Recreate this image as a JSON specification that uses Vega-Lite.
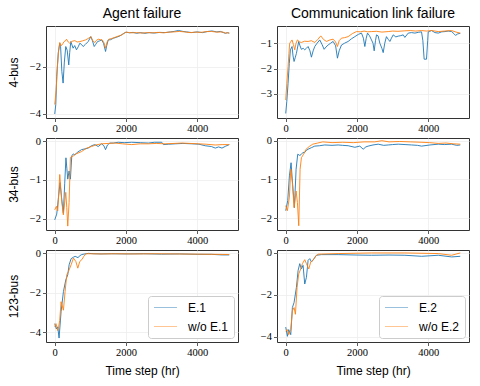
{
  "$schema": "https://vega.github.io/schema/vega-lite/v6.json",
  "padding": {"left": 6, "top": 6, "right": 5, "bottom": 5},
  "background": "white",
  "bounds": "flush",
  "columns": 2,
  "spacing": {"row": 20, "column": 39},
  "config": {
    "view": {"stroke": "#333333", "strokeWidth": 1},
    "axis": {
      "domain": false,
      "grid": true,
      "gridColor": "#eeeeee",
      "gridWidth": 0.8,
      "tickColor": "#333333",
      "tickSize": 3.5,
      "tickWidth": 0.8,
      "labelFont": "Liberation Serif",
      "labelFontSize": 10.5,
      "labelColor": "#000000",
      "labelPadding": 2,
      "titleFont": "Liberation Sans",
      "titleFontSize": 12,
      "titleFontWeight": "normal",
      "titleColor": "#000000"
    },
    "axisY": {"titlePadding": 9},
    "axisX": {"titlePadding": 7},
    "legend": {
      "labelFont": "Liberation Sans",
      "labelFontSize": 12,
      "labelColor": "#000000"
    },
    "line": {"strokeWidth": 0.9, "clip": true}
  },
  "resolve": {"scale": {"color": "independent", "x": "independent", "y": "independent"}},
  "datasets": {
    "a1": [
      {"t":0,"r":-4.0,"s":"E.1"},{"t":30,"r":-3.6,"s":"E.1"},{"t":56,"r":-2.4,"s":"E.1"},{"t":100,"r":-1.4,"s":"E.1"},{"t":141,"r":-1.0,"s":"E.1"},{"t":165,"r":-1.15,"s":"E.1"},{"t":200,"r":-2.2,"s":"E.1"},{"t":235,"r":-2.69,"s":"E.1"},{"t":270,"r":-1.8,"s":"E.1"},{"t":310,"r":-1.14,"s":"E.1"},{"t":350,"r":-1.3,"s":"E.1"},{"t":394,"r":-1.92,"s":"E.1"},{"t":420,"r":-1.4,"s":"E.1"},{"t":451,"r":-0.93,"s":"E.1"},{"t":516,"r":-1.21,"s":"E.1"},{"t":560,"r":-1.1,"s":"E.1"},{"t":610,"r":-1.28,"s":"E.1"},{"t":660,"r":-1.15,"s":"E.1"},{"t":704,"r":-1.0,"s":"E.1"},{"t":750,"r":-1.05,"s":"E.1"},{"t":798,"r":-1.14,"s":"E.1"},{"t":860,"r":-1.05,"s":"E.1"},{"t":939,"r":-0.93,"s":"E.1"},{"t":1014,"r":-0.72,"s":"E.1"},{"t":1060,"r":-0.9,"s":"E.1"},{"t":1108,"r":-1.14,"s":"E.1"},{"t":1150,"r":-1.05,"s":"E.1"},{"t":1202,"r":-0.93,"s":"E.1"},{"t":1260,"r":-0.9,"s":"E.1"},{"t":1315,"r":-0.86,"s":"E.1"},{"t":1370,"r":-1.0,"s":"E.1"},{"t":1427,"r":-1.35,"s":"E.1"},{"t":1460,"r":-1.1,"s":"E.1"},{"t":1502,"r":-0.86,"s":"E.1"},{"t":1570,"r":-0.85,"s":"E.1"},{"t":1643,"r":-0.79,"s":"E.1"},{"t":1730,"r":-0.75,"s":"E.1"},{"t":1831,"r":-0.69,"s":"E.1"},{"t":1920,"r":-0.6,"s":"E.1"},{"t":2000,"r":-0.53,"s":"E.1"},{"t":2100,"r":-0.56,"s":"E.1"},{"t":2200,"r":-0.54,"s":"E.1"},{"t":2300,"r":-0.58,"s":"E.1"},{"t":2400,"r":-0.55,"s":"E.1"},{"t":2535,"r":-0.58,"s":"E.1"},{"t":2650,"r":-0.55,"s":"E.1"},{"t":2800,"r":-0.57,"s":"E.1"},{"t":2950,"r":-0.54,"s":"E.1"},{"t":3099,"r":-0.55,"s":"E.1"},{"t":3250,"r":-0.52,"s":"E.1"},{"t":3350,"r":-0.5,"s":"E.1"},{"t":3474,"r":-0.46,"s":"E.1"},{"t":3600,"r":-0.5,"s":"E.1"},{"t":3700,"r":-0.52,"s":"E.1"},{"t":3850,"r":-0.55,"s":"E.1"},{"t":4000,"r":-0.52,"s":"E.1"},{"t":4150,"r":-0.55,"s":"E.1"},{"t":4300,"r":-0.5,"s":"E.1"},{"t":4413,"r":-0.48,"s":"E.1"},{"t":4550,"r":-0.52,"s":"E.1"},{"t":4650,"r":-0.5,"s":"E.1"},{"t":4789,"r":-0.58,"s":"E.1"},{"t":4850,"r":-0.55,"s":"E.1"},{"t":4900,"r":-0.58,"s":"E.1"},
      {"t":0,"r":-3.6,"s":"w/o E.1"},{"t":40,"r":-3.0,"s":"w/o E.1"},{"t":75,"r":-2.0,"s":"w/o E.1"},{"t":110,"r":-1.3,"s":"w/o E.1"},{"t":141,"r":-0.97,"s":"w/o E.1"},{"t":175,"r":-1.1,"s":"w/o E.1"},{"t":207,"r":-1.07,"s":"w/o E.1"},{"t":235,"r":-1.0,"s":"w/o E.1"},{"t":263,"r":-0.93,"s":"w/o E.1"},{"t":300,"r":-0.9,"s":"w/o E.1"},{"t":329,"r":-0.83,"s":"w/o E.1"},{"t":380,"r":-0.95,"s":"w/o E.1"},{"t":423,"r":-1.0,"s":"w/o E.1"},{"t":480,"r":-0.92,"s":"w/o E.1"},{"t":563,"r":-0.89,"s":"w/o E.1"},{"t":630,"r":-0.95,"s":"w/o E.1"},{"t":704,"r":-0.93,"s":"w/o E.1"},{"t":780,"r":-0.9,"s":"w/o E.1"},{"t":864,"r":-0.86,"s":"w/o E.1"},{"t":940,"r":-0.8,"s":"w/o E.1"},{"t":1014,"r":-0.72,"s":"w/o E.1"},{"t":1070,"r":-0.9,"s":"w/o E.1"},{"t":1127,"r":-0.97,"s":"w/o E.1"},{"t":1170,"r":-0.88,"s":"w/o E.1"},{"t":1221,"r":-0.83,"s":"w/o E.1"},{"t":1280,"r":-0.85,"s":"w/o E.1"},{"t":1333,"r":-0.86,"s":"w/o E.1"},{"t":1390,"r":-1.0,"s":"w/o E.1"},{"t":1427,"r":-1.21,"s":"w/o E.1"},{"t":1470,"r":-0.95,"s":"w/o E.1"},{"t":1521,"r":-0.83,"s":"w/o E.1"},{"t":1600,"r":-0.8,"s":"w/o E.1"},{"t":1690,"r":-0.75,"s":"w/o E.1"},{"t":1780,"r":-0.7,"s":"w/o E.1"},{"t":1878,"r":-0.65,"s":"w/o E.1"},{"t":1950,"r":-0.58,"s":"w/o E.1"},{"t":2000,"r":-0.53,"s":"w/o E.1"},{"t":2100,"r":-0.55,"s":"w/o E.1"},{"t":2200,"r":-0.56,"s":"w/o E.1"},{"t":2300,"r":-0.55,"s":"w/o E.1"},{"t":2450,"r":-0.57,"s":"w/o E.1"},{"t":2600,"r":-0.55,"s":"w/o E.1"},{"t":2750,"r":-0.56,"s":"w/o E.1"},{"t":2900,"r":-0.54,"s":"w/o E.1"},{"t":3050,"r":-0.56,"s":"w/o E.1"},{"t":3200,"r":-0.53,"s":"w/o E.1"},{"t":3350,"r":-0.52,"s":"w/o E.1"},{"t":3500,"r":-0.5,"s":"w/o E.1"},{"t":3650,"r":-0.52,"s":"w/o E.1"},{"t":3800,"r":-0.55,"s":"w/o E.1"},{"t":3950,"r":-0.53,"s":"w/o E.1"},{"t":4100,"r":-0.54,"s":"w/o E.1"},{"t":4250,"r":-0.51,"s":"w/o E.1"},{"t":4400,"r":-0.5,"s":"w/o E.1"},{"t":4550,"r":-0.53,"s":"w/o E.1"},{"t":4700,"r":-0.52,"s":"w/o E.1"},{"t":4800,"r":-0.57,"s":"w/o E.1"},{"t":4900,"r":-0.56,"s":"w/o E.1"}
    ],
    "c1": [
      {"t":0,"r":-3.77,"s":"E.2"},{"t":30,"r":-3.3,"s":"E.2"},{"t":66,"r":-2.58,"s":"E.2"},{"t":100,"r":-1.8,"s":"E.2"},{"t":131,"r":-1.26,"s":"E.2"},{"t":178,"r":-1.13,"s":"E.2"},{"t":205,"r":-1.5,"s":"E.2"},{"t":234,"r":-1.72,"s":"E.2"},{"t":270,"r":-1.55,"s":"E.2"},{"t":300,"r":-1.4,"s":"E.2"},{"t":365,"r":-0.93,"s":"E.2"},{"t":400,"r":-1.1,"s":"E.2"},{"t":440,"r":-1.24,"s":"E.2"},{"t":490,"r":-1.2,"s":"E.2"},{"t":534,"r":-1.26,"s":"E.2"},{"t":580,"r":-1.2,"s":"E.2"},{"t":628,"r":-1.13,"s":"E.2"},{"t":680,"r":-1.3,"s":"E.2"},{"t":721,"r":-1.55,"s":"E.2"},{"t":770,"r":-1.3,"s":"E.2"},{"t":815,"r":-1.13,"s":"E.2"},{"t":880,"r":-1.0,"s":"E.2"},{"t":956,"r":-0.87,"s":"E.2"},{"t":1020,"r":-1.05,"s":"E.2"},{"t":1078,"r":-1.24,"s":"E.2"},{"t":1130,"r":-1.15,"s":"E.2"},{"t":1190,"r":-1.07,"s":"E.2"},{"t":1260,"r":-1.0,"s":"E.2"},{"t":1331,"r":-0.93,"s":"E.2"},{"t":1400,"r":-1.1,"s":"E.2"},{"t":1452,"r":-1.59,"s":"E.2"},{"t":1500,"r":-1.3,"s":"E.2"},{"t":1565,"r":-1.07,"s":"E.2"},{"t":1650,"r":-1.0,"s":"E.2"},{"t":1752,"r":-0.93,"s":"E.2"},{"t":1850,"r":-0.82,"s":"E.2"},{"t":1940,"r":-0.74,"s":"E.2"},{"t":2040,"r":-0.65,"s":"E.2"},{"t":2127,"r":-0.6,"s":"E.2"},{"t":2180,"r":-0.8,"s":"E.2"},{"t":2221,"r":-1.13,"s":"E.2"},{"t":2260,"r":-0.8,"s":"E.2"},{"t":2296,"r":-0.6,"s":"E.2"},{"t":2350,"r":-0.7,"s":"E.2"},{"t":2408,"r":-0.87,"s":"E.2"},{"t":2450,"r":-1.0,"s":"E.2"},{"t":2483,"r":-1.3,"s":"E.2"},{"t":2520,"r":-0.9,"s":"E.2"},{"t":2549,"r":-0.67,"s":"E.2"},{"t":2594,"r":-0.71,"s":"E.2"},{"t":2642,"r":-1.0,"s":"E.2"},{"t":2700,"r":-1.2,"s":"E.2"},{"t":2736,"r":-1.37,"s":"E.2"},{"t":2780,"r":-1.0,"s":"E.2"},{"t":2827,"r":-0.74,"s":"E.2"},{"t":2880,"r":-0.85,"s":"E.2"},{"t":2924,"r":-0.93,"s":"E.2"},{"t":2968,"r":-0.8,"s":"E.2"},{"t":3017,"r":-0.67,"s":"E.2"},{"t":3090,"r":-0.75,"s":"E.2"},{"t":3158,"r":-0.72,"s":"E.2"},{"t":3230,"r":-0.7,"s":"E.2"},{"t":3298,"r":-0.67,"s":"E.2"},{"t":3344,"r":-0.77,"s":"E.2"},{"t":3439,"r":-0.6,"s":"E.2"},{"t":3531,"r":-0.58,"s":"E.2"},{"t":3626,"r":-0.6,"s":"E.2"},{"t":3720,"r":-0.57,"s":"E.2"},{"t":3812,"r":-0.55,"s":"E.2"},{"t":3850,"r":-0.9,"s":"E.2"},{"t":3886,"r":-1.63,"s":"E.2"},{"t":3952,"r":-1.63,"s":"E.2"},{"t":3985,"r":-0.9,"s":"E.2"},{"t":4000,"r":-0.55,"s":"E.2"},{"t":4095,"r":-0.5,"s":"E.2"},{"t":4187,"r":-0.58,"s":"E.2"},{"t":4282,"r":-0.6,"s":"E.2"},{"t":4380,"r":-0.55,"s":"E.2"},{"t":4470,"r":-0.54,"s":"E.2"},{"t":4561,"r":-0.52,"s":"E.2"},{"t":4657,"r":-0.54,"s":"E.2"},{"t":4720,"r":-0.62,"s":"E.2"},{"t":4767,"r":-0.69,"s":"E.2"},{"t":4830,"r":-0.63,"s":"E.2"},{"t":4900,"r":-0.61,"s":"E.2"},
      {"t":0,"r":-3.24,"s":"w/o E.2"},{"t":30,"r":-2.6,"s":"w/o E.2"},{"t":66,"r":-1.92,"s":"w/o E.2"},{"t":90,"r":-1.4,"s":"w/o E.2"},{"t":112,"r":-1.0,"s":"w/o E.2"},{"t":178,"r":-0.87,"s":"w/o E.2"},{"t":215,"r":-1.05,"s":"w/o E.2"},{"t":253,"r":-1.26,"s":"w/o E.2"},{"t":290,"r":-1.0,"s":"w/o E.2"},{"t":328,"r":-0.87,"s":"w/o E.2"},{"t":390,"r":-0.95,"s":"w/o E.2"},{"t":440,"r":-0.97,"s":"w/o E.2"},{"t":530,"r":-0.92,"s":"w/o E.2"},{"t":628,"r":-0.93,"s":"w/o E.2"},{"t":720,"r":-0.9,"s":"w/o E.2"},{"t":815,"r":-0.97,"s":"w/o E.2"},{"t":900,"r":-0.85,"s":"w/o E.2"},{"t":984,"r":-0.71,"s":"w/o E.2"},{"t":1060,"r":-0.85,"s":"w/o E.2"},{"t":1143,"r":-0.93,"s":"w/o E.2"},{"t":1240,"r":-0.87,"s":"w/o E.2"},{"t":1331,"r":-0.84,"s":"w/o E.2"},{"t":1400,"r":-0.95,"s":"w/o E.2"},{"t":1452,"r":-1.13,"s":"w/o E.2"},{"t":1500,"r":-0.9,"s":"w/o E.2"},{"t":1565,"r":-0.8,"s":"w/o E.2"},{"t":1650,"r":-0.78,"s":"w/o E.2"},{"t":1752,"r":-0.74,"s":"w/o E.2"},{"t":1870,"r":-0.62,"s":"w/o E.2"},{"t":1986,"r":-0.54,"s":"w/o E.2"},{"t":2100,"r":-0.55,"s":"w/o E.2"},{"t":2200,"r":-0.52,"s":"w/o E.2"},{"t":2300,"r":-0.55,"s":"w/o E.2"},{"t":2408,"r":-0.54,"s":"w/o E.2"},{"t":2550,"r":-0.53,"s":"w/o E.2"},{"t":2700,"r":-0.56,"s":"w/o E.2"},{"t":2877,"r":-0.54,"s":"w/o E.2"},{"t":3000,"r":-0.52,"s":"w/o E.2"},{"t":3150,"r":-0.53,"s":"w/o E.2"},{"t":3345,"r":-0.51,"s":"w/o E.2"},{"t":3500,"r":-0.5,"s":"w/o E.2"},{"t":3650,"r":-0.52,"s":"w/o E.2"},{"t":3814,"r":-0.5,"s":"w/o E.2"},{"t":3950,"r":-0.52,"s":"w/o E.2"},{"t":4100,"r":-0.5,"s":"w/o E.2"},{"t":4282,"r":-0.54,"s":"w/o E.2"},{"t":4450,"r":-0.52,"s":"w/o E.2"},{"t":4657,"r":-0.5,"s":"w/o E.2"},{"t":4780,"r":-0.56,"s":"w/o E.2"},{"t":4900,"r":-0.6,"s":"w/o E.2"}
    ],
    "a2": [
      {"t":0,"r":-2.03,"s":"E.1"},{"t":56,"r":-1.88,"s":"E.1"},{"t":100,"r":-1.5,"s":"E.1"},{"t":149,"r":-1.07,"s":"E.1"},{"t":197,"r":-1.5,"s":"E.1"},{"t":242,"r":-1.86,"s":"E.1"},{"t":280,"r":-1.1,"s":"E.1"},{"t":315,"r":-0.43,"s":"E.1"},{"t":340,"r":-0.7,"s":"E.1"},{"t":366,"r":-0.98,"s":"E.1"},{"t":403,"r":-0.77,"s":"E.1"},{"t":440,"r":-0.98,"s":"E.1"},{"t":479,"r":-0.38,"s":"E.1"},{"t":520,"r":-0.33,"s":"E.1"},{"t":563,"r":-0.35,"s":"E.1"},{"t":650,"r":-0.28,"s":"E.1"},{"t":751,"r":-0.22,"s":"E.1"},{"t":850,"r":-0.2,"s":"E.1"},{"t":939,"r":-0.18,"s":"E.1"},{"t":1030,"r":-0.12,"s":"E.1"},{"t":1127,"r":-0.09,"s":"E.1"},{"t":1221,"r":-0.14,"s":"E.1"},{"t":1315,"r":-0.07,"s":"E.1"},{"t":1380,"r":-0.12,"s":"E.1"},{"t":1427,"r":-0.22,"s":"E.1"},{"t":1480,"r":-0.1,"s":"E.1"},{"t":1549,"r":-0.05,"s":"E.1"},{"t":1650,"r":-0.05,"s":"E.1"},{"t":1784,"r":-0.03,"s":"E.1"},{"t":1950,"r":-0.04,"s":"E.1"},{"t":2160,"r":-0.03,"s":"E.1"},{"t":2400,"r":-0.04,"s":"E.1"},{"t":2629,"r":-0.05,"s":"E.1"},{"t":2800,"r":-0.03,"s":"E.1"},{"t":3005,"r":-0.03,"s":"E.1"},{"t":3052,"r":-0.09,"s":"E.1"},{"t":3200,"r":-0.08,"s":"E.1"},{"t":3380,"r":-0.07,"s":"E.1"},{"t":3600,"r":-0.06,"s":"E.1"},{"t":3850,"r":-0.07,"s":"E.1"},{"t":4050,"r":-0.08,"s":"E.1"},{"t":4226,"r":-0.12,"s":"E.1"},{"t":4400,"r":-0.14,"s":"E.1"},{"t":4507,"r":-0.18,"s":"E.1"},{"t":4600,"r":-0.15,"s":"E.1"},{"t":4695,"r":-0.18,"s":"E.1"},{"t":4800,"r":-0.13,"s":"E.1"},{"t":4900,"r":-0.09,"s":"E.1"},
      {"t":0,"r":-1.77,"s":"w/o E.1"},{"t":47,"r":-1.68,"s":"w/o E.1"},{"t":84,"r":-1.8,"s":"w/o E.1"},{"t":141,"r":-0.86,"s":"w/o E.1"},{"t":197,"r":-1.55,"s":"w/o E.1"},{"t":242,"r":-1.9,"s":"w/o E.1"},{"t":310,"r":-1.32,"s":"w/o E.1"},{"t":338,"r":-1.71,"s":"w/o E.1"},{"t":366,"r":-2.19,"s":"w/o E.1"},{"t":403,"r":-1.58,"s":"w/o E.1"},{"t":440,"r":-0.42,"s":"w/o E.1"},{"t":524,"r":-0.38,"s":"w/o E.1"},{"t":600,"r":-0.33,"s":"w/o E.1"},{"t":751,"r":-0.27,"s":"w/o E.1"},{"t":900,"r":-0.18,"s":"w/o E.1"},{"t":1033,"r":-0.14,"s":"w/o E.1"},{"t":1150,"r":-0.1,"s":"w/o E.1"},{"t":1315,"r":-0.07,"s":"w/o E.1"},{"t":1500,"r":-0.06,"s":"w/o E.1"},{"t":1690,"r":-0.05,"s":"w/o E.1"},{"t":1900,"r":-0.07,"s":"w/o E.1"},{"t":2160,"r":-0.09,"s":"w/o E.1"},{"t":2400,"r":-0.07,"s":"w/o E.1"},{"t":2629,"r":-0.07,"s":"w/o E.1"},{"t":2850,"r":-0.06,"s":"w/o E.1"},{"t":3099,"r":-0.07,"s":"w/o E.1"},{"t":3350,"r":-0.06,"s":"w/o E.1"},{"t":3568,"r":-0.05,"s":"w/o E.1"},{"t":3800,"r":-0.06,"s":"w/o E.1"},{"t":4037,"r":-0.07,"s":"w/o E.1"},{"t":4250,"r":-0.08,"s":"w/o E.1"},{"t":4507,"r":-0.1,"s":"w/o E.1"},{"t":4700,"r":-0.09,"s":"w/o E.1"},{"t":4900,"r":-0.09,"s":"w/o E.1"}
    ],
    "c2": [
      {"t":0,"r":-1.81,"s":"E.2"},{"t":56,"r":-1.55,"s":"E.2"},{"t":103,"r":-0.91,"s":"E.2"},{"t":150,"r":-0.57,"s":"E.2"},{"t":197,"r":-1.17,"s":"E.2"},{"t":244,"r":-1.73,"s":"E.2"},{"t":291,"r":-0.74,"s":"E.2"},{"t":337,"r":-0.35,"s":"E.2"},{"t":394,"r":-0.38,"s":"E.2"},{"t":431,"r":-0.36,"s":"E.2"},{"t":487,"r":-0.3,"s":"E.2"},{"t":525,"r":-0.31,"s":"E.2"},{"t":580,"r":-0.25,"s":"E.2"},{"t":628,"r":-0.22,"s":"E.2"},{"t":720,"r":-0.18,"s":"E.2"},{"t":815,"r":-0.14,"s":"E.2"},{"t":950,"r":-0.13,"s":"E.2"},{"t":1096,"r":-0.11,"s":"E.2"},{"t":1300,"r":-0.12,"s":"E.2"},{"t":1471,"r":-0.11,"s":"E.2"},{"t":1600,"r":-0.12,"s":"E.2"},{"t":1752,"r":-0.13,"s":"E.2"},{"t":1940,"r":-0.17,"s":"E.2"},{"t":2080,"r":-0.14,"s":"E.2"},{"t":2174,"r":-0.22,"s":"E.2"},{"t":2250,"r":-0.16,"s":"E.2"},{"t":2314,"r":-0.14,"s":"E.2"},{"t":2450,"r":-0.11,"s":"E.2"},{"t":2596,"r":-0.09,"s":"E.2"},{"t":2750,"r":-0.12,"s":"E.2"},{"t":2877,"r":-0.11,"s":"E.2"},{"t":3000,"r":-0.1,"s":"E.2"},{"t":3158,"r":-0.09,"s":"E.2"},{"t":3350,"r":-0.1,"s":"E.2"},{"t":3532,"r":-0.11,"s":"E.2"},{"t":3700,"r":-0.12,"s":"E.2"},{"t":3814,"r":-0.14,"s":"E.2"},{"t":4050,"r":-0.11,"s":"E.2"},{"t":4282,"r":-0.09,"s":"E.2"},{"t":4450,"r":-0.1,"s":"E.2"},{"t":4657,"r":-0.09,"s":"E.2"},{"t":4800,"r":-0.12,"s":"E.2"},{"t":4900,"r":-0.11,"s":"E.2"},
      {"t":0,"r":-1.68,"s":"w/o E.2"},{"t":47,"r":-1.81,"s":"w/o E.2"},{"t":103,"r":-1.46,"s":"w/o E.2"},{"t":141,"r":-0.74,"s":"w/o E.2"},{"t":187,"r":-1.08,"s":"w/o E.2"},{"t":234,"r":-1.73,"s":"w/o E.2"},{"t":291,"r":-1.3,"s":"w/o E.2"},{"t":328,"r":-1.6,"s":"w/o E.2"},{"t":366,"r":-2.2,"s":"w/o E.2"},{"t":403,"r":-0.74,"s":"w/o E.2"},{"t":441,"r":-0.44,"s":"w/o E.2"},{"t":500,"r":-0.35,"s":"w/o E.2"},{"t":572,"r":-0.22,"s":"w/o E.2"},{"t":660,"r":-0.15,"s":"w/o E.2"},{"t":759,"r":-0.09,"s":"w/o E.2"},{"t":900,"r":-0.06,"s":"w/o E.2"},{"t":1040,"r":-0.03,"s":"w/o E.2"},{"t":1300,"r":-0.05,"s":"w/o E.2"},{"t":1600,"r":-0.04,"s":"w/o E.2"},{"t":1900,"r":-0.05,"s":"w/o E.2"},{"t":2200,"r":-0.03,"s":"w/o E.2"},{"t":2500,"r":-0.03,"s":"w/o E.2"},{"t":2700,"r":0.0,"s":"w/o E.2"},{"t":2900,"r":-0.03,"s":"w/o E.2"},{"t":3200,"r":-0.02,"s":"w/o E.2"},{"t":3500,"r":-0.03,"s":"w/o E.2"},{"t":3800,"r":-0.04,"s":"w/o E.2"},{"t":4037,"r":-0.05,"s":"w/o E.2"},{"t":4282,"r":-0.07,"s":"w/o E.2"},{"t":4500,"r":-0.06,"s":"w/o E.2"},{"t":4700,"r":-0.08,"s":"w/o E.2"},{"t":4900,"r":-0.09,"s":"w/o E.2"}
    ],
    "a3": [
      {"t":0,"r":-3.56,"s":"E.1"},{"t":47,"r":-3.83,"s":"E.1"},{"t":84,"r":-3.72,"s":"E.1"},{"t":122,"r":-4.29,"s":"E.1"},{"t":178,"r":-2.96,"s":"E.1"},{"t":244,"r":-1.94,"s":"E.1"},{"t":310,"r":-1.35,"s":"E.1"},{"t":366,"r":-1.09,"s":"E.1"},{"t":404,"r":-0.58,"s":"E.1"},{"t":460,"r":-0.27,"s":"E.1"},{"t":520,"r":-0.2,"s":"E.1"},{"t":573,"r":-0.15,"s":"E.1"},{"t":657,"r":-0.22,"s":"E.1"},{"t":700,"r":-0.12,"s":"E.1"},{"t":761,"r":-0.06,"s":"E.1"},{"t":845,"r":-0.03,"s":"E.1"},{"t":948,"r":0.0,"s":"E.1"},{"t":1100,"r":-0.02,"s":"E.1"},{"t":1300,"r":-0.03,"s":"E.1"},{"t":1600,"r":-0.02,"s":"E.1"},{"t":2000,"r":-0.03,"s":"E.1"},{"t":2500,"r":-0.02,"s":"E.1"},{"t":3000,"r":-0.04,"s":"E.1"},{"t":3500,"r":-0.03,"s":"E.1"},{"t":4000,"r":-0.05,"s":"E.1"},{"t":4400,"r":-0.05,"s":"E.1"},{"t":4700,"r":-0.08,"s":"E.1"},{"t":4900,"r":-0.08,"s":"E.1"},
      {"t":0,"r":-3.72,"s":"w/o E.1"},{"t":35,"r":-3.56,"s":"w/o E.1"},{"t":84,"r":-3.91,"s":"w/o E.1"},{"t":112,"r":-3.7,"s":"w/o E.1"},{"t":140,"r":-3.4,"s":"w/o E.1"},{"t":178,"r":-2.45,"s":"w/o E.1"},{"t":244,"r":-2.88,"s":"w/o E.1"},{"t":291,"r":-1.94,"s":"w/o E.1"},{"t":338,"r":-1.09,"s":"w/o E.1"},{"t":385,"r":-0.92,"s":"w/o E.1"},{"t":460,"r":-0.58,"s":"w/o E.1"},{"t":526,"r":-0.24,"s":"w/o E.1"},{"t":592,"r":-0.41,"s":"w/o E.1"},{"t":648,"r":-0.75,"s":"w/o E.1"},{"t":704,"r":-0.41,"s":"w/o E.1"},{"t":761,"r":-0.32,"s":"w/o E.1"},{"t":817,"r":-0.15,"s":"w/o E.1"},{"t":873,"r":-0.02,"s":"w/o E.1"},{"t":1000,"r":-0.02,"s":"w/o E.1"},{"t":1300,"r":-0.03,"s":"w/o E.1"},{"t":1700,"r":-0.02,"s":"w/o E.1"},{"t":2200,"r":-0.03,"s":"w/o E.1"},{"t":2800,"r":-0.02,"s":"w/o E.1"},{"t":3400,"r":-0.03,"s":"w/o E.1"},{"t":4000,"r":-0.04,"s":"w/o E.1"},{"t":4500,"r":-0.05,"s":"w/o E.1"},{"t":4900,"r":-0.06,"s":"w/o E.1"}
    ],
    "c3": [
      {"t":0,"r":-3.53,"s":"E.2"},{"t":47,"r":-3.97,"s":"E.2"},{"t":84,"r":-3.65,"s":"E.2"},{"t":141,"r":-3.89,"s":"E.2"},{"t":187,"r":-2.6,"s":"E.2"},{"t":234,"r":-2.36,"s":"E.2"},{"t":300,"r":-1.64,"s":"E.2"},{"t":347,"r":-0.84,"s":"E.2"},{"t":394,"r":-0.51,"s":"E.2"},{"t":440,"r":-0.76,"s":"E.2"},{"t":487,"r":-0.59,"s":"E.2"},{"t":534,"r":-1.48,"s":"E.2"},{"t":581,"r":-1.16,"s":"E.2"},{"t":628,"r":-0.35,"s":"E.2"},{"t":675,"r":-0.27,"s":"E.2"},{"t":721,"r":-0.43,"s":"E.2"},{"t":796,"r":-0.27,"s":"E.2"},{"t":862,"r":-0.11,"s":"E.2"},{"t":1003,"r":-0.08,"s":"E.2"},{"t":1471,"r":-0.08,"s":"E.2"},{"t":2000,"r":-0.1,"s":"E.2"},{"t":2408,"r":-0.11,"s":"E.2"},{"t":2900,"r":-0.1,"s":"E.2"},{"t":3345,"r":-0.11,"s":"E.2"},{"t":3814,"r":-0.16,"s":"E.2"},{"t":4282,"r":-0.11,"s":"E.2"},{"t":4657,"r":-0.19,"s":"E.2"},{"t":4900,"r":-0.16,"s":"E.2"},
      {"t":0,"r":-3.73,"s":"w/o E.2"},{"t":47,"r":-3.65,"s":"w/o E.2"},{"t":84,"r":-3.89,"s":"w/o E.2"},{"t":141,"r":-3.65,"s":"w/o E.2"},{"t":187,"r":-2.76,"s":"w/o E.2"},{"t":234,"r":-2.6,"s":"w/o E.2"},{"t":272,"r":-2.92,"s":"w/o E.2"},{"t":319,"r":-1.64,"s":"w/o E.2"},{"t":365,"r":-1.0,"s":"w/o E.2"},{"t":422,"r":-0.76,"s":"w/o E.2"},{"t":468,"r":-0.51,"s":"w/o E.2"},{"t":534,"r":-0.32,"s":"w/o E.2"},{"t":581,"r":-0.51,"s":"w/o E.2"},{"t":647,"r":-0.76,"s":"w/o E.2"},{"t":703,"r":-0.43,"s":"w/o E.2"},{"t":768,"r":-0.35,"s":"w/o E.2"},{"t":834,"r":-0.16,"s":"w/o E.2"},{"t":909,"r":-0.06,"s":"w/o E.2"},{"t":1471,"r":-0.03,"s":"w/o E.2"},{"t":2408,"r":0.0,"s":"w/o E.2"},{"t":3345,"r":0.0,"s":"w/o E.2"},{"t":4282,"r":-0.03,"s":"w/o E.2"},{"t":4657,"r":-0.11,"s":"w/o E.2"},{"t":4900,"r":0.0,"s":"w/o E.2"}
    ]
  },
  "concat": [
    {
      "width": 192, "height": 92,
      "title": {"text": "Agent failure", "frame": "group", "anchor": "middle", "font": "Liberation Sans", "fontSize": 14, "fontWeight": "normal", "color": "#000000", "offset": 5},
      "data": {"name": "a1"},
      "mark": {"type": "line"},
      "encoding": {
        "x": {"field": "t", "type": "quantitative", "scale": {"domain": [-245, 5145], "nice": false, "zero": false}, "axis": {"values": [0, 2000, 4000], "title": null, "format": "d"}},
        "y": {"field": "r", "type": "quantitative", "scale": {"domain": [-4.17, -0.27], "nice": false, "zero": false}, "axis": {"values": [-4, -2], "title": "4-bus", "format": "d"}},
        "color": {"field": "s", "type": "nominal", "scale": {"domain": ["E.1", "w/o E.1"], "range": ["#1f77b4", "#ff7f0e"]}, "legend": null}
      }
    },
    {
      "width": 192, "height": 92,
      "title": {"text": "Communication link failure", "frame": "group", "anchor": "middle", "font": "Liberation Sans", "fontSize": 14, "fontWeight": "normal", "color": "#000000", "offset": 5},
      "data": {"name": "c1"},
      "mark": {"type": "line"},
      "encoding": {
        "x": {"field": "t", "type": "quantitative", "scale": {"domain": [-245, 5145], "nice": false, "zero": false}, "axis": {"values": [0, 2000, 4000], "title": null, "format": "d"}},
        "y": {"field": "r", "type": "quantitative", "scale": {"domain": [-3.95, -0.32], "nice": false, "zero": false}, "axis": {"values": [-3, -2, -1], "title": null, "format": "d"}},
        "color": {"field": "s", "type": "nominal", "scale": {"domain": ["E.2", "w/o E.2"], "range": ["#1f77b4", "#ff7f0e"]}, "legend": null}
      }
    },
    {
      "width": 192, "height": 92,
      "data": {"name": "a2"},
      "mark": {"type": "line"},
      "encoding": {
        "x": {"field": "t", "type": "quantitative", "scale": {"domain": [-245, 5145], "nice": false, "zero": false}, "axis": {"values": [0, 2000, 4000], "title": null, "format": "d"}},
        "y": {"field": "r", "type": "quantitative", "scale": {"domain": [-2.29, 0.08], "nice": false, "zero": false}, "axis": {"values": [-2, -1, 0], "title": "34-bus", "format": "d"}},
        "color": {"field": "s", "type": "nominal", "scale": {"domain": ["E.1", "w/o E.1"], "range": ["#1f77b4", "#ff7f0e"]}, "legend": null}
      }
    },
    {
      "width": 192, "height": 92,
      "data": {"name": "c2"},
      "mark": {"type": "line"},
      "encoding": {
        "x": {"field": "t", "type": "quantitative", "scale": {"domain": [-245, 5145], "nice": false, "zero": false}, "axis": {"values": [0, 2000, 4000], "title": null, "format": "d"}},
        "y": {"field": "r", "type": "quantitative", "scale": {"domain": [-2.31, 0.07], "nice": false, "zero": false}, "axis": {"values": [-2, -1, 0], "title": null, "format": "d"}},
        "color": {"field": "s", "type": "nominal", "scale": {"domain": ["E.2", "w/o E.2"], "range": ["#1f77b4", "#ff7f0e"]}, "legend": null}
      }
    },
    {
      "width": 192, "height": 92,
      "data": {"name": "a3"},
      "mark": {"type": "line"},
      "encoding": {
        "x": {"field": "t", "type": "quantitative", "scale": {"domain": [-245, 5145], "nice": false, "zero": false}, "axis": {"values": [0, 2000, 4000], "title": "Time step (hr)", "format": "d"}},
        "y": {"field": "r", "type": "quantitative", "scale": {"domain": [-4.49, 0.17], "nice": false, "zero": false}, "axis": {"values": [-4, -2, 0], "title": "123-bus", "format": "d"}},
        "color": {"field": "s", "type": "nominal", "scale": {"domain": ["E.1", "w/o E.1"], "range": ["#1f77b4", "#ff7f0e"]},
          "legend": {"orient": "bottom-right", "title": null, "offset": 4, "symbolType": "M-2,0H2", "symbolSize": 132, "symbolOffset": 6, "symbolStrokeWidth": 1.5, "symbolOpacity": 0.5, "fillColor": "#ffffff", "strokeColor": "#cccccc", "cornerRadius": 3, "padding": 5, "rowPadding": 6, "labelOffset": 16}}
      }
    },
    {
      "width": 192, "height": 92,
      "data": {"name": "c3"},
      "mark": {"type": "line"},
      "encoding": {
        "x": {"field": "t", "type": "quantitative", "scale": {"domain": [-245, 5145], "nice": false, "zero": false}, "axis": {"values": [0, 2000, 4000], "title": "Time step (hr)", "format": "d"}},
        "y": {"field": "r", "type": "quantitative", "scale": {"domain": [-4.24, 0.14], "nice": false, "zero": false}, "axis": {"values": [-4, -2, 0], "title": null, "format": "d"}},
        "color": {"field": "s", "type": "nominal", "scale": {"domain": ["E.2", "w/o E.2"], "range": ["#1f77b4", "#ff7f0e"]},
          "legend": {"orient": "bottom-right", "title": null, "offset": 4, "symbolType": "M-2,0H2", "symbolSize": 132, "symbolOffset": 6, "symbolStrokeWidth": 1.5, "symbolOpacity": 0.5, "fillColor": "#ffffff", "strokeColor": "#cccccc", "cornerRadius": 3, "padding": 5, "rowPadding": 6, "labelOffset": 16}}
      }
    }
  ]
}
